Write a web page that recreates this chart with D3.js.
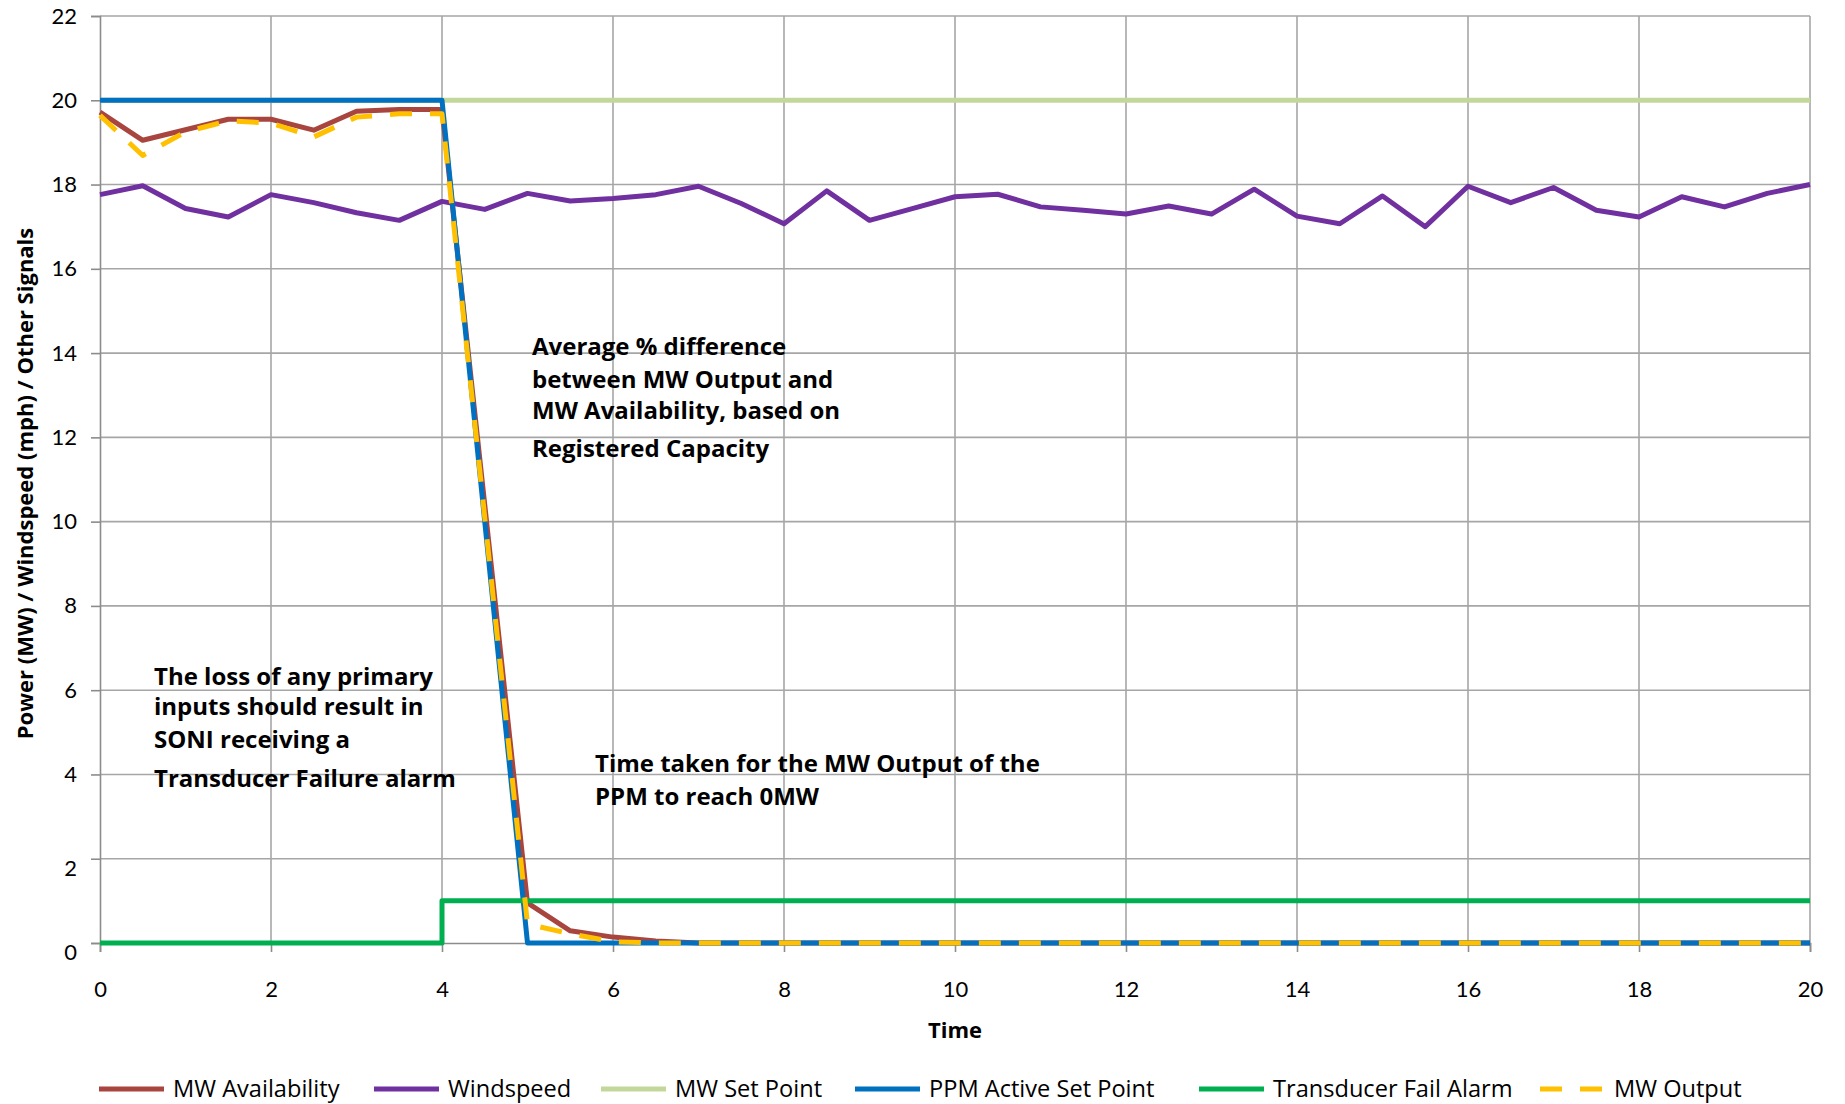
<!DOCTYPE html>
<html>
<head>
<meta charset="utf-8">
<script src="https://cdn.jsdelivr.net/npm/d3@7"></script>
<style>
  html, body { margin: 0; padding: 0; background: #ffffff; }
  svg { display: block; }
  text { font-family: "Open Sans", Lato, sans-serif; }
</style>
</head>
<body>
<svg id="chart" width="1845" height="1104"></svg>
<script>
// ---------------- data ----------------
const time = [0,0.5,1,1.5,2,2.5,3,3.5,4,4.5,5,5.5,6,6.5,7,7.5,8,8.5,9,9.5,10,
              10.5,11,11.5,12,12.5,13,13.5,14,14.5,15,15.5,16,16.5,17,17.5,18,18.5,19,19.5,20];

const mwAvailability = [19.72,19.05,19.3,19.55,19.55,19.29,19.74,19.78,19.78,10.4,0.95,0.29,0.14,0.05,
                        0,0,0,0,0,0,0,0,0,0,0,0,0,0,0,0,0,0,0,0,0,0,0,0,0,0,0];

const windspeed = [17.76,17.97,17.43,17.23,17.76,17.57,17.33,17.15,17.6,17.41,17.79,17.61,17.67,17.76,
                   17.96,17.55,17.07,17.85,17.15,17.43,17.71,17.77,17.47,17.39,17.3,17.49,17.3,17.89,
                   17.25,17.07,17.73,17.0,17.96,17.57,17.93,17.39,17.23,17.71,17.47,17.79,18.0];

const mwSetPoint = [20,20,20,20,20,20,20,20,20,20,20,20,20,20,20,20,20,20,20,20,20,
                    20,20,20,20,20,20,20,20,20,20,20,20,20,20,20,20,20,20,20,20];

const ppmActiveSetPoint = [20,20,20,20,20,20,20,20,20,10,0,0,0,0,0,0,0,0,0,0,0,
                           0,0,0,0,0,0,0,0,0,0,0,0,0,0,0,0,0,0,0,0];

const alarmTime  = [0,4,4,20];
const alarmValue = [0,0,1,1];

const mwOutput = [19.64,18.69,19.25,19.51,19.46,19.13,19.6,19.68,19.68,10.1,0.45,0.22,0.03,
                  0,0,0,0,0,0,0,0,0,0,0,0,0,0,0,0,0,0,0,0,0,0,0,0,0,0,0,0];

const xTicks = [0,2,4,6,8,10,12,14,16,18,20];
const yTicks = [0,2,4,6,8,10,12,14,16,18,20,22];

const seriesNames = ["MW Availability","Windspeed","MW Set Point","PPM Active Set Point","Transducer Fail Alarm","MW Output"];
const seriesColors = ["#A9453F","#7030A0","#C4D79B","#0070C0","#00B050","#FFC000"];

const annotations = [
  {x: 532, y: 355, lines: ["Average % difference","between MW Output and","MW Availability, based on","Registered Capacity"], dy: [0,33,64,102]},
  {x: 154, y: 685, lines: ["The loss of any primary","inputs should result in","SONI receiving a","Transducer Failure alarm"], dy: [0,30,63,102]},
  {x: 595, y: 772, lines: ["Time taken for the MW Output of the","PPM to reach 0MW"], dy: [0,33]}
];

// ---------------- layout ----------------
const svg = d3.select("#chart");
const plot = {left: 100, right: 1810, top: 16, bottom: 943};

const x = d3.scaleLinear().domain([0, 20]).range([plot.left, plot.right]);
const y = d3.scaleLinear().domain([0, 22]).range([plot.bottom, plot.top]);

// gridlines
const grid = svg.append("g");
grid.selectAll("line.h").data(yTicks.filter(d => d > 0)).join("line")
  .attr("x1", plot.left).attr("x2", plot.right)
  .attr("y1", d => y(d)).attr("y2", d => y(d))
  .attr("stroke", "#a6a6a6").attr("stroke-width", 1.6);
grid.selectAll("line.v").data(xTicks.filter(d => d > 0)).join("line")
  .attr("x1", d => x(d)).attr("x2", d => x(d))
  .attr("y1", plot.top).attr("y2", plot.bottom)
  .attr("stroke", "#a6a6a6").attr("stroke-width", 1.6);

// axes
const yAxis = d3.axisLeft(y).tickValues(yTicks).tickSize(9).tickPadding(14).tickFormat(d3.format("d"));
const xAxis = d3.axisBottom(x).tickValues(xTicks).tickSize(9).tickPadding(29).tickFormat(d3.format("d"));

const gy = svg.append("g").attr("transform", `translate(${plot.left},0)`).call(yAxis);
const gx = svg.append("g").attr("transform", `translate(0,${plot.bottom})`).call(xAxis);
[gx, gy].forEach(g => {
  g.select(".domain").attr("stroke", "#8c8c8c").attr("stroke-width", 1.6);
  g.selectAll(".tick line").attr("stroke", "#8c8c8c").attr("stroke-width", 1.6);
  g.selectAll(".tick text").attr("fill", "#000").style("font-size", "22px")
    .style("font-family", "Lato, sans-serif");
});
// the two lowest y labels sit slightly below their gridlines in the reference
gy.selectAll(".tick text").attr("dy", d => d <= 2 ? "0.75em" : "0.32em");

// axis titles
svg.append("text").attr("x", x(10)).attr("y", 1038).attr("text-anchor", "middle")
  .style("font-size", "22px").style("font-weight", "bold").text("Time");
svg.append("text").attr("transform", `translate(33,${(plot.top + plot.bottom) / 2 + 4}) rotate(-90)`)
  .attr("text-anchor", "middle").style("font-size", "22px").style("font-weight", "bold")
  .text("Power (MW) / Windspeed (mph) / Other Signals");

// series
const lineGen = d3.line().x(d => x(d[0])).y(d => y(d[1]));
const zipT = vals => time.map((t, i) => [t, vals[i]]);
const series = [
  {name: seriesNames[0], pts: zipT(mwAvailability), color: seriesColors[0]},
  {name: seriesNames[1], pts: zipT(windspeed), color: seriesColors[1]},
  {name: seriesNames[2], pts: zipT(mwSetPoint), color: seriesColors[2]},
  {name: seriesNames[3], pts: zipT(ppmActiveSetPoint), color: seriesColors[3]},
  {name: seriesNames[4], pts: alarmTime.map((t, i) => [t, alarmValue[i]]), color: seriesColors[4]},
  {name: seriesNames[5], pts: zipT(mwOutput), color: seriesColors[5], dash: "22,18"}
];

const gLines = svg.append("g");
series.forEach(s => {
  gLines.append("path").datum(s.pts)
    .attr("d", lineGen)
    .attr("fill", "none")
    .attr("stroke", s.color)
    .attr("stroke-width", 5)
    .attr("stroke-linejoin", "round")
    .attr("stroke-dasharray", s.dash || null);
});

// annotations
annotations.forEach(a => {
  const t = svg.append("text").attr("x", a.x).attr("y", a.y)
    .style("font-size", "24px").style("font-weight", "bold").attr("fill", "#000");
  a.lines.forEach((ln, i) => {
    t.append("tspan").attr("x", a.x).attr("y", a.y + a.dy[i]).text(ln);
  });
});

// legend
const legendX = [99, 374, 601, 855, 1199, 1540];
const legendY = 1089;
const lg = svg.append("g");
series.forEach((s, i) => {
  const g = lg.append("g").attr("transform", `translate(${legendX[i]},${legendY})`);
  g.append("line").attr("x1", 0).attr("x2", 65).attr("y1", 0).attr("y2", 0)
    .attr("stroke", s.color).attr("stroke-width", 5)
    .attr("stroke-dasharray", s.dash || null);
  g.append("text").attr("x", 74).attr("y", 8).style("font-size", "23.6px").attr("fill", "#000").text(s.name);
});
</script>
</body>
</html>
